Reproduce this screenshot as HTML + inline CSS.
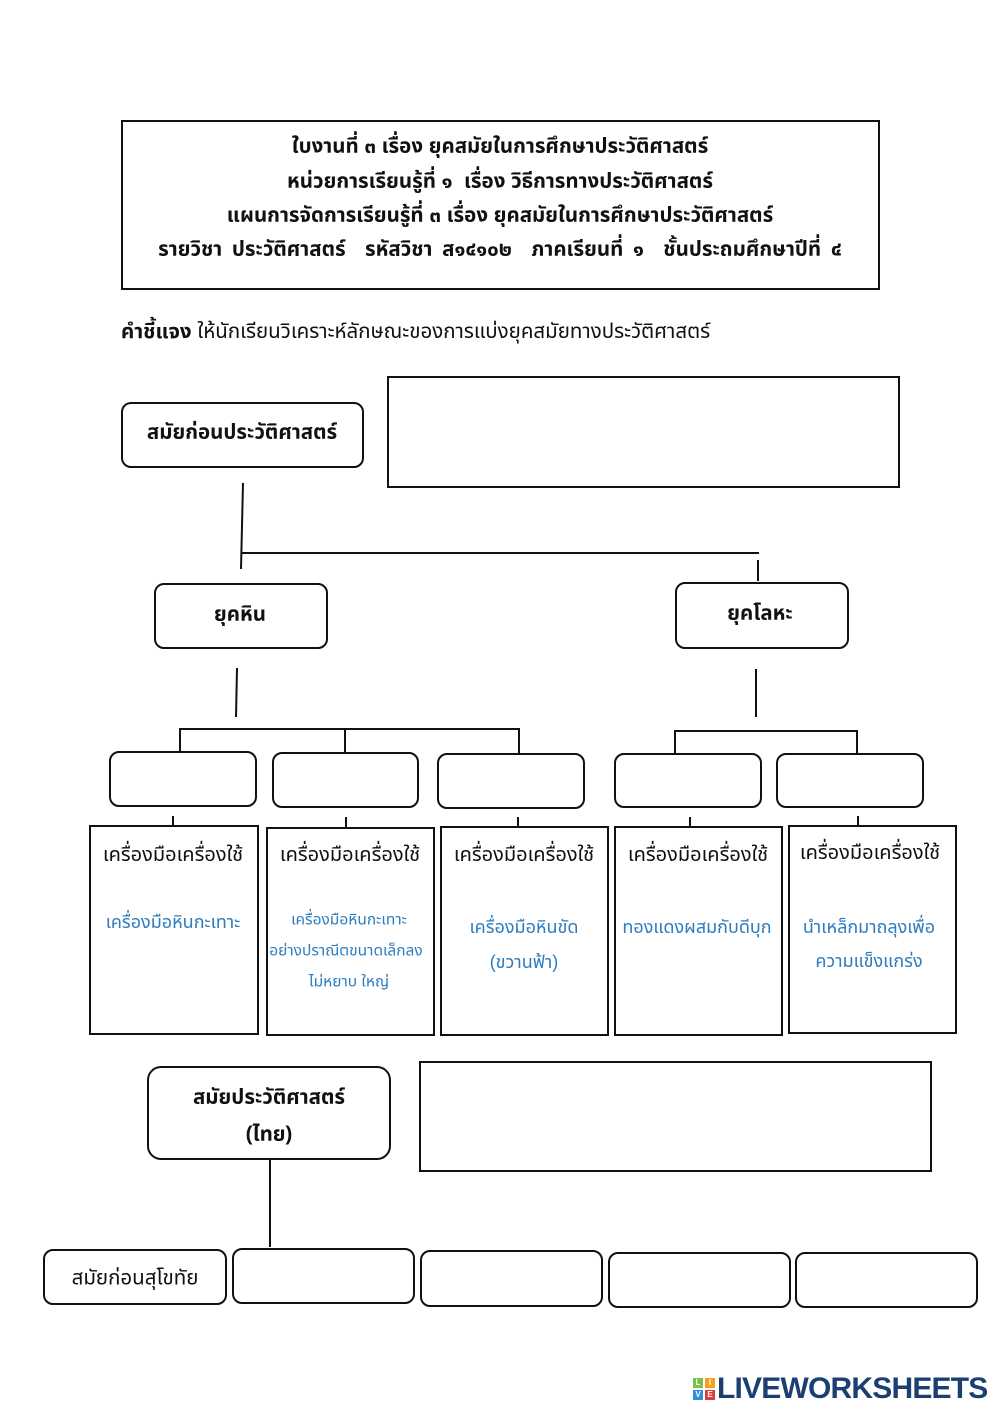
<!DOCTYPE html>
<html>
<head>
<meta charset="utf-8">
<style>
  html,body{margin:0;padding:0;background:#fff;}
  #pg{position:relative;width:1000px;height:1414px;overflow:hidden;background:#fff;
      font-family:"Liberation Sans","Noto Sans Thai","Loma","Garuda","Norasi","DejaVu Sans",sans-serif;color:#111;}
  .b{position:absolute;box-sizing:border-box;border:2px solid #111;background:transparent;}
  .r{border-radius:10px;}
  .t{position:absolute;white-space:nowrap;transform:translate(-50%,-50%);text-align:center;line-height:1.2;}
  .h{font-weight:bold;font-size:20.5px;}
  .ttl{font-size:20px;}
  .blue{color:#2f7dbf;font-size:18px;}
  svg{position:absolute;left:0;top:0;}
</style>
</head>
<body>
<div id="pg">
  <!-- header -->
  <div class="b" style="left:121px;top:120px;width:759px;height:170px;"></div>
  <div class="t h" style="left:500px;top:147px;">ใบงานที่ ๓ เรื่อง ยุคสมัยในการศึกษาประวัติศาสตร์</div>
  <div class="t h" style="left:500px;top:182px;">หน่วยการเรียนรู้ที่ ๑&nbsp; เรื่อง วิธีการทางประวัติศาสตร์</div>
  <div class="t h" style="left:500px;top:216px;">แผนการจัดการเรียนรู้ที่ ๓ เรื่อง ยุคสมัยในการศึกษาประวัติศาสตร์</div>
  <div class="t h" style="left:500px;top:250px;word-spacing:4px;">รายวิชา ประวัติศาสตร์&nbsp; รหัสวิชา ส๑๔๑๐๒&nbsp; ภาคเรียนที่ ๑&nbsp; ชั้นประถมศึกษาปีที่ ๔</div>

  <div style="position:absolute;left:121px;top:318px;font-size:20.5px;white-space:nowrap;line-height:28px;"><b>คำชี้แจง</b> ให้นักเรียนวิเคราะห์ลักษณะของการแบ่งยุคสมัยทางประวัติศาสตร์</div>

  <!-- connectors -->
  <svg width="1000" height="1414" viewBox="0 0 1000 1414">
    <g stroke="#111" stroke-width="2" fill="none">
      <line x1="243" y1="483" x2="241" y2="569"/>
      <line x1="242" y1="553" x2="759" y2="553"/>
      <line x1="758" y1="560" x2="758" y2="581"/>
      <line x1="237" y1="668" x2="236" y2="717"/>
      <line x1="179" y1="729" x2="520" y2="729"/>
      <line x1="180" y1="729" x2="180" y2="751"/>
      <line x1="345" y1="729" x2="345" y2="752"/>
      <line x1="519" y1="729" x2="519" y2="753"/>
      <line x1="756" y1="669" x2="756" y2="717"/>
      <line x1="674" y1="731" x2="858" y2="731"/>
      <line x1="675" y1="731" x2="675" y2="753"/>
      <line x1="857" y1="731" x2="857" y2="753"/>
      <line x1="173" y1="816" x2="173" y2="826"/>
      <line x1="346" y1="817" x2="346" y2="828"/>
      <line x1="518" y1="817" x2="518" y2="828"/>
      <line x1="690" y1="817" x2="690" y2="827"/>
      <line x1="858" y1="816" x2="858" y2="826"/>
      <line x1="270" y1="1160" x2="270" y2="1247"/>
    </g>
  </svg>

  <!-- top tree -->
  <div class="b r" style="left:121px;top:402px;width:243px;height:66px;"></div>
  <div class="t h" style="left:242px;top:433px;">สมัยก่อนประวัติศาสตร์</div>
  <div class="b" style="left:387px;top:376px;width:513px;height:112px;"></div>

  <div class="b r" style="left:154px;top:583px;width:174px;height:66px;"></div>
  <div class="t h" style="left:240px;top:615px;">ยุคหิน</div>
  <div class="b r" style="left:675px;top:582px;width:174px;height:67px;"></div>
  <div class="t h" style="left:760px;top:614px;">ยุคโลหะ</div>

  <!-- small boxes -->
  <div class="b r" style="left:109px;top:751px;width:148px;height:56px;"></div>
  <div class="b r" style="left:272px;top:752px;width:147px;height:56px;"></div>
  <div class="b r" style="left:437px;top:753px;width:148px;height:56px;"></div>
  <div class="b r" style="left:614px;top:753px;width:148px;height:55px;"></div>
  <div class="b r" style="left:776px;top:753px;width:148px;height:55px;"></div>

  <!-- big boxes -->
  <div class="b" style="left:89px;top:825px;width:170px;height:210px;"></div>
  <div class="b" style="left:266px;top:827px;width:169px;height:209px;"></div>
  <div class="b" style="left:440px;top:826px;width:169px;height:210px;"></div>
  <div class="b" style="left:614px;top:826px;width:169px;height:210px;"></div>
  <div class="b" style="left:788px;top:825px;width:169px;height:209px;"></div>

  <div class="t ttl" style="left:173px;top:855px;">เครื่องมือเครื่องใช้</div>
  <div class="t ttl" style="left:350px;top:855px;">เครื่องมือเครื่องใช้</div>
  <div class="t ttl" style="left:524px;top:855px;">เครื่องมือเครื่องใช้</div>
  <div class="t ttl" style="left:698px;top:855px;">เครื่องมือเครื่องใช้</div>
  <div class="t ttl" style="left:870px;top:853px;">เครื่องมือเครื่องใช้</div>

  <div class="t blue" style="left:173px;top:923px;">เครื่องมือหินกะเทาะ</div>
  <div class="t blue" style="left:349px;top:921px;font-size:15.5px;">เครื่องมือหินกะเทาะ</div>
  <div class="t blue" style="left:346px;top:952px;font-size:15.5px;">อย่างปราณีตขนาดเล็กลง</div>
  <div class="t blue" style="left:349px;top:983px;font-size:15.5px;">ไม่หยาบ ใหญ่</div>
  <div class="t blue" style="left:524px;top:928px;">เครื่องมือหินขัด</div>
  <div class="t blue" style="left:524px;top:963px;">(ขวานฟ้า)</div>
  <div class="t blue" style="left:697px;top:928px;">ทองแดงผสมกับดีบุก</div>
  <div class="t blue" style="left:869px;top:928px;">นำเหล็กมาถลุงเพื่อ</div>
  <div class="t blue" style="left:869px;top:962px;">ความแข็งแกร่ง</div>

  <!-- historical -->
  <div class="b" style="left:147px;top:1066px;width:244px;height:94px;border-radius:14px;"></div>
  <div class="t h" style="left:269px;top:1098px;">สมัยประวัติศาสตร์</div>
  <div class="t h" style="left:269px;top:1135px;">(ไทย)</div>
  <div class="b" style="left:419px;top:1061px;width:513px;height:111px;"></div>

  <div class="b r" style="left:43px;top:1249px;width:184px;height:56px;"></div>
  <div class="t" style="left:135px;top:1279px;font-size:20.5px;">สมัยก่อนสุโขทัย</div>
  <div class="b r" style="left:232px;top:1248px;width:183px;height:56px;"></div>
  <div class="b r" style="left:420px;top:1250px;width:183px;height:57px;"></div>
  <div class="b r" style="left:608px;top:1252px;width:183px;height:56px;"></div>
  <div class="b r" style="left:795px;top:1252px;width:183px;height:56px;"></div>

  <!-- logo -->
  <div style="position:absolute;left:693px;top:1378px;width:22px;height:22px;">
    <div style="position:absolute;left:0;top:0;width:10px;height:10px;background:#7cc04b;color:#fff;font:bold 8px 'Liberation Sans',sans-serif;text-align:center;line-height:10px;">L</div>
    <div style="position:absolute;left:12px;top:0;width:10px;height:10px;background:#f4a21d;color:#fff;font:bold 8px 'Liberation Sans',sans-serif;text-align:center;line-height:10px;">I</div>
    <div style="position:absolute;left:0;top:12px;width:10px;height:10px;background:#2f8fd6;color:#fff;font:bold 8px 'Liberation Sans',sans-serif;text-align:center;line-height:10px;">V</div>
    <div style="position:absolute;left:12px;top:12px;width:10px;height:10px;background:#e23b3b;color:#fff;font:bold 8px 'Liberation Sans',sans-serif;text-align:center;line-height:10px;">E</div>
  </div>
  <div style="position:absolute;left:717px;top:1372px;font:bold 30px 'Liberation Sans',sans-serif;color:#1b3f73;line-height:34px;letter-spacing:-0.8px;white-space:nowrap;">LIVEWORKSHEETS</div>
</div>
</body>
</html>
